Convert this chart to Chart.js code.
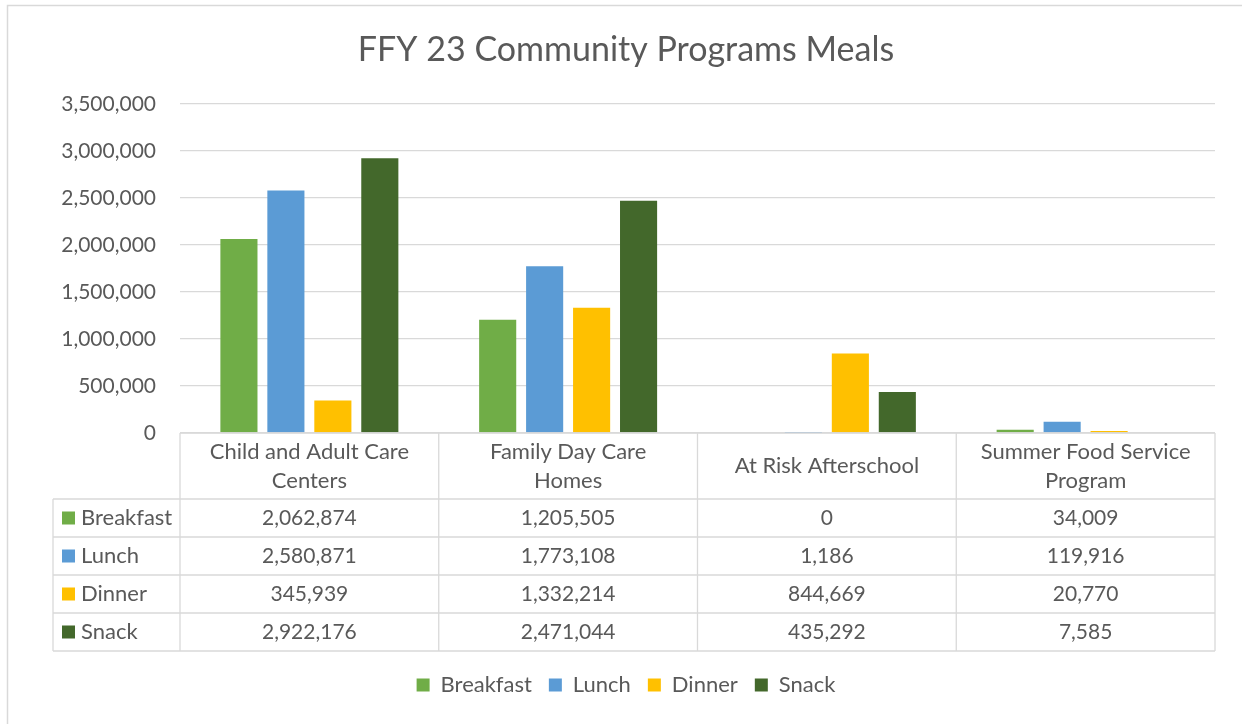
<!DOCTYPE html>
<html>
<head>
<meta charset="utf-8">
<script src="https://cdn.jsdelivr.net/npm/chart.js@4.4.1/dist/chart.umd.min.js"></script>
<style>
html,body{margin:0;padding:0;background:#fff}
</style>
</head>
<body>
<canvas id="myChart" width="1242" height="724"></canvas>
<script>
// data
const categories = [['Child and Adult Care', 'Centers'], ['Family Day Care', 'Homes'], ['At Risk Afterschool'], ['Summer Food Service', 'Program']];
const seriesNames = ['Breakfast', 'Lunch', 'Dinner', 'Snack'];
const breakfast = [2062874, 1205505, 0, 34009];
const lunch = [2580871, 1773108, 1186, 119916];
const dinner = [345939, 1332214, 844669, 20770];
const snack = [2922176, 2471044, 435292, 7585];
const yMax = 3500000, yStep = 500000;

const colors = ['#70AD47', '#5B9BD5', '#FFC000', '#43682B'];
const textColor = '#595959', lineColor = '#D9D9D9';
const font = 'Lato';
const seriesData = [breakfast, lunch, dinner, snack];

// geometry of the data table under the axis
const headerH = 66, rowH = 38, tableLeft = 53, xAxisH = 224;

const tablePlugin = {
  id: 'dataTable',
  beforeDraw(chart) {
    const c = chart.ctx;
    c.save();
    c.strokeStyle = lineColor;
    c.lineWidth = 1.5;
    c.strokeRect(7.5, 5.5, 1400, 900);
    c.restore();
  },
  afterDraw(chart) {
    const c = chart.ctx, x = chart.scales.x, area = chart.chartArea;
    const top = area.bottom, rowsTop = top + headerH, bottom = rowsTop + rowH * seriesNames.length;
    const cw = x.getPixelForValue(1) - x.getPixelForValue(0);
    c.save();
    c.strokeStyle = lineColor;
    c.lineWidth = 1.3;
    c.beginPath();
    // horizontal lines
    c.moveTo(area.left, top); c.lineTo(area.right, top);
    for (let r = 0; r <= seriesNames.length; r++) {
      const y = rowsTop + r * rowH;
      c.moveTo(tableLeft, y); c.lineTo(area.right, y);
    }
    // vertical lines
    c.moveTo(tableLeft, rowsTop); c.lineTo(tableLeft, bottom);
    for (let i = 0; i <= categories.length; i++) {
      const xx = x.getPixelForValue(i) - cw / 2;
      c.moveTo(xx, top); c.lineTo(xx, bottom);
    }
    c.stroke();

    c.fillStyle = textColor;
    c.font = '22px ' + font;
    c.textAlign = 'center';
    c.textBaseline = 'middle';
    // header labels
    categories.forEach((lines, i) => {
      const cx = x.getPixelForValue(i);
      const lh = 29;
      const y0 = top + headerH / 2 - (lines.length - 1) * lh / 2;
      lines.forEach((t, k) => c.fillText(t, cx, y0 + k * lh));
    });
    // rows
    seriesNames.forEach((name, r) => {
      const cy = rowsTop + r * rowH + rowH / 2;
      c.fillStyle = colors[r];
      c.fillRect(62, cy - 6.5, 13, 13);
      c.fillStyle = textColor;
      c.textAlign = 'left';
      c.font = '22px ' + font;
      c.fillText(name, 81, cy);
      c.textAlign = 'center';
      c.font = '21px ' + font;
      seriesData[r].forEach((v, i) => {
        c.fillText(v.toLocaleString('en-US'), x.getPixelForValue(i), cy);
      });
    });
    c.restore();
  }
};

new Chart(document.getElementById('myChart'), {
  type: 'bar',
  data: {
    labels: categories.map(l => l.join(' ')),
    datasets: seriesNames.map((name, i) => ({
      label: name,
      data: seriesData[i],
      backgroundColor: colors[i],
      borderWidth: 0,
      categoryPercentage: 0.726,
      barPercentage: 0.79
    }))
  },
  options: {
    responsive: false,
    animation: false,
    layout: { padding: { left: 37, right: 27, top: 5, bottom: 18 } },
    plugins: {
      title: {
        display: true,
        text: 'FFY 23 Community Programs Meals',
        color: textColor,
        font: { family: font, size: 34, weight: 'normal' },
        padding: { top: 24.6, bottom: 33.6 }
      },
      legend: {
        position: 'bottom',
        labels: {
          color: textColor,
          font: { family: font, size: 22 },
          boxWidth: 13,
          boxHeight: 13,
          padding: 17
        }
      },
      tooltip: { enabled: false }
    },
    scales: {
      x: {
        ticks: { display: false },
        grid: { display: false },
        border: { display: false },
        afterFit(s) { s.height = xAxisH; }
      },
      y: {
        min: 0,
        max: yMax,
        ticks: {
          stepSize: yStep,
          color: textColor,
          padding: 24,
          font: { family: font, size: 21 },
          callback: v => v.toLocaleString('en-US')
        },
        grid: { color: lineColor, lineWidth: 1.3, drawTicks: false },
        border: { display: false },
        afterFit(s) { s.width = 143; }
      }
    }
  },
  plugins: [tablePlugin]
});
</script>
</body>
</html>
